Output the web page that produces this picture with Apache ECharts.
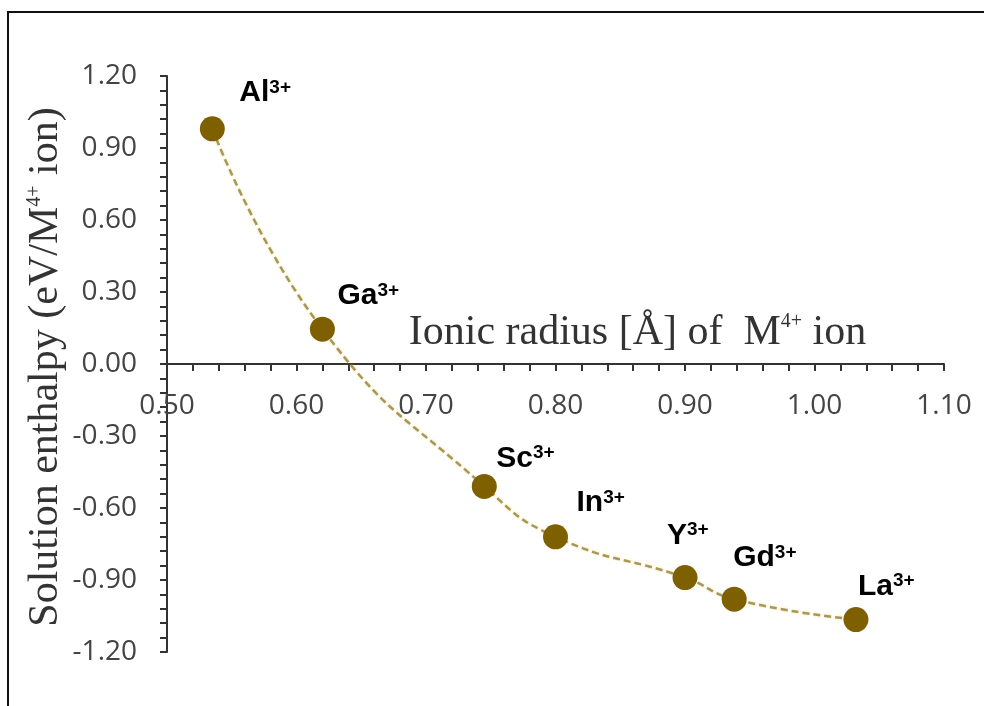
<!DOCTYPE html>
<html>
<head>
<meta charset="utf-8">
<script src="https://cdn.jsdelivr.net/npm/echarts@6/dist/echarts.min.js"></script>
<style>
html,body{margin:0;padding:0;background:#fff;}
#chart{width:984px;height:706px;}
</style>
</head>
<body>
<div id="chart"></div>
<script>
// ---- data ----
const ions = ['Al', 'Ga', 'Sc', 'In', 'Y', 'Gd', 'La'];
const charges = ['3+', '3+', '3+', '3+', '3+', '3+', '3+'];
const ionicRadius = [0.535, 0.62, 0.745, 0.80, 0.90, 0.938, 1.032];
const solutionEnthalpy = [0.98, 0.145, -0.51, -0.72, -0.89, -0.98, -1.065];
const xTicks = { min: 0.5, max: 1.1, step: 0.1 };
const yTicks = { min: -1.2, max: 1.2, step: 0.3 };

// ---- layout (label offsets from point centre, px) ----
const labelOffsets = [[27, -36], [15, -33], [12, -28], [21, -34], [-18, -42], [-1, -41], [2, -33]];

const seriesData = ionicRadius.map((x, i) => ({
  value: [x, solutionEnthalpy[i]],
  label: { offset: labelOffsets[i] }
}));

const gridTop = 76, gridBottom = 54, H = 706;
// place the x axis line at y = 0 of the value axis
const plotH = H - gridTop - gridBottom;
const zeroY = gridTop + plotH * (yTicks.max - 0) / (yTicks.max - yTicks.min);
const xAxisOffset = -((H - gridBottom) - zeroY);

const axisCol = '#333';
const tickStyle = { color: axisCol, width: 2 };
const chart = echarts.init(document.getElementById('chart'));
chart.setOption({
  animation: false,
  backgroundColor: '#fff',
  grid: { left: 167, right: 40, top: gridTop, bottom: gridBottom, containLabel: false },
  graphic: [{
    type: 'rect',
    shape: { x: 8, y: 12, width: 1200, height: 900 },
    style: { fill: 'none', stroke: '#111', lineWidth: 2 },
    silent: true
  }],
  xAxis: {
    type: 'value',
    min: xTicks.min, max: xTicks.max, interval: xTicks.step,
    position: 'bottom',
    offset: xAxisOffset,
    name: '{t|Ionic radius [Å] of  M}{s|4+}{t| ion}',
    nameLocation: 'middle',
    nameGap: -52,
    nameMoveOverlap: false,
    nameTextStyle: {
      padding: [0, 0, 0, 164],
      rich: {
        t: { fontFamily: 'Liberation Serif', fontSize: 42, color: '#333' },
        s: { fontFamily: 'Liberation Serif', fontSize: 20, color: '#333', verticalAlign: 'top' }
      }
    },
    axisLine: { onZero: false, lineStyle: { color: axisCol, width: 2 } },
    axisTick: { show: true, inside: false, length: 7, lineStyle: tickStyle },
    minorTick: { show: true, splitNumber: 5, length: 7, lineStyle: tickStyle },
    splitLine: { show: false },
    minorSplitLine: { show: false },
    axisLabel: {
      margin: 28,
      fontFamily: 'Open Sans', fontSize: 28, color: '#444',
      formatter: v => v.toFixed(2)
    }
  },
  yAxis: {
    type: 'value',
    min: yTicks.min, max: yTicks.max, interval: yTicks.step,
    name: '{t|Solution enthalpy (eV/M}{s|4+}{t| ion)}',
    nameLocation: 'middle',
    nameGap: 100,
    nameRotate: 90,
    nameMoveOverlap: false,
    nameTextStyle: {
      padding: [0, 6, 0, 0],
      rich: {
        t: { fontFamily: 'Liberation Serif', fontSize: 42, color: '#333' },
        s: { fontFamily: 'Liberation Serif', fontSize: 20, color: '#333', verticalAlign: 'top' }
      }
    },
    axisLine: { onZero: false, lineStyle: { color: axisCol, width: 2 } },
    axisTick: { show: true, inside: false, length: 7, lineStyle: tickStyle },
    minorTick: { show: true, splitNumber: 5, length: 7, lineStyle: tickStyle },
    splitLine: { show: false },
    minorSplitLine: { show: false },
    axisLabel: {
      margin: 30,
      fontFamily: 'Open Sans', fontSize: 28, color: '#444',
      formatter: v => v.toFixed(2)
    }
  },
  series: [{
    type: 'line',
    data: seriesData,
    smooth: true,
    symbol: 'circle',
    symbolSize: 25,
    itemStyle: { color: '#7f6000' },
    lineStyle: { color: '#a8975a', width: 2.5, type: [7, 4], shadowColor: 'rgba(240,210,90,0.6)', shadowBlur: 3 },
    label: {
      show: true,
      position: 'inside',
      align: 'left',
      verticalAlign: 'middle',
      formatter: p => '{b|' + ions[p.dataIndex] + '}{s|' + charges[p.dataIndex] + '}',
      rich: {
        b: { fontFamily: 'Liberation Sans', fontWeight: 'bold', fontSize: 30, color: '#000' },
        s: { fontFamily: 'Liberation Sans', fontWeight: 'bold', fontSize: 19, color: '#000', verticalAlign: 'top' }
      }
    },
    z: 3
  }]
});
</script>
</body>
</html>
